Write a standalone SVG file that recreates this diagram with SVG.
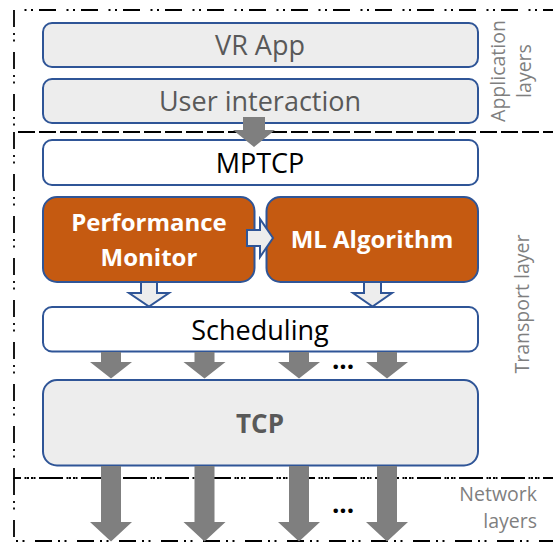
<svg xmlns="http://www.w3.org/2000/svg" width="553" height="544" viewBox="0 0 553 544">
<style>
.zone{fill:none;stroke:#000;stroke-width:1.8;stroke-dasharray:17 6 2 4.5 2 10.5}
.box{stroke:#2f5597;stroke-width:2}
.grey{fill:#ededed}
.white{fill:#ffffff}
.orange{fill:#c55a11}
.t{font-family:"Open Sans","Liberation Sans",sans-serif;text-anchor:middle}
.lbl{font-family:"Open Sans","Liberation Sans",sans-serif;font-size:19.5px;fill:#7f7f7f}
.fat{fill:#7f7f7f}
.hollow{fill:#ededed;stroke:#2f5597;stroke-width:2;stroke-linejoin:miter}
</style>
<rect width="553" height="544" fill="#ffffff"/>
<g id="zones">
<path class="zone" d="M560,10 H14 V132 H560"/>
<path class="zone" d="M560,132 H14 V478 H560"/>
<path class="zone" d="M560,478 H14 V541 H560"/>
</g>
<g id="labels">
<text class="lbl" text-anchor="middle" transform="translate(505,71) rotate(-90)">Application</text>
<text class="lbl" text-anchor="middle" transform="translate(531,71) rotate(-90)">layers</text>
<text class="lbl" text-anchor="middle" transform="translate(529,304) rotate(-90)">Transport layer</text>
<text class="lbl" text-anchor="end" x="537" y="501">Network</text>
<text class="lbl" text-anchor="end" x="537" y="528">layers</text>
</g>
<g id="vr-app">
<rect class="box grey" x="43" y="23" width="435" height="44" rx="9"/>
<text class="t" x="260" y="55" font-size="27" fill="#595959">VR App</text>
</g>
<g id="user-interaction">
<rect class="box grey" x="43" y="79" width="435" height="44" rx="9"/>
<text class="t" x="260" y="111" font-size="27" fill="#595959">User interaction</text>
</g>
<g id="mptcp">
<rect class="box white" x="43" y="140" width="435" height="45" rx="9"/>
<text class="t" x="260" y="173" font-size="27" fill="#000">MPTCP</text>
</g>
<g id="performance-monitor">
<rect class="box orange" x="43" y="197" width="211.5" height="85" rx="14"/>
<text class="t" x="149" y="231" font-size="24" font-weight="bold" fill="#fff">Performance</text>
<text class="t" x="149" y="266" font-size="24" font-weight="bold" fill="#fff">Monitor</text>
</g>
<g id="ml-algorithm">
<rect class="box orange" x="266.5" y="197" width="211.5" height="85" rx="14"/>
<text class="t" x="372" y="248" font-size="24" font-weight="bold" fill="#fff">ML Algorithm</text>
</g>
<g id="scheduling">
<rect class="box white" x="43" y="307" width="435" height="44.5" rx="9"/>
<text class="t" x="260" y="340" font-size="27" fill="#000">Scheduling</text>
</g>
<g id="tcp">
<rect class="box grey" x="43" y="380" width="435" height="85.5" rx="14"/>
<text class="t" x="260" y="433" font-size="26" font-weight="bold" fill="#595959">TCP</text>
</g>
<g id="connectors">
<path class="fat" d="M243,117 H265 V130 H275 L254,147 L233,130 H243 Z"/>
<path class="hollow" d="M247,230 H260 V219 L273,238 L260,257 V246 H247 Z"/>
<path class="hollow" d="M141,282 H157 V293 H169 L149,306.5 L129,293 H141 Z"/>
<path class="hollow" d="M364,282 H381 V293 H392 L372.5,306.5 L353,293 H364 Z"/>
<path class="fat" d="M101,352 H121 V362 H132 L111,378.5 L90,362 H101 Z"/>
<path class="fat" d="M194.5,352 H214.5 V362 H225.5 L204.5,378.5 L183.5,362 H194.5 Z"/>
<path class="fat" d="M289,352 H309 V362 H320 L299,378.5 L278,362 H289 Z"/>
<path class="fat" d="M377,352 H397 V362 H408 L387,378.5 L366,362 H377 Z"/>
<path class="fat" d="M101,466 H121 V522 H132 L111,541.5 L90,522 H101 Z"/>
<path class="fat" d="M194.5,466 H214.5 V522 H225.5 L204.5,541.5 L183.5,522 H194.5 Z"/>
<path class="fat" d="M289,466 H309 V522 H320 L299,541.5 L278,522 H289 Z"/>
<path class="fat" d="M377,466 H397 V522 H408 L387,541.5 L366,522 H377 Z"/>
<text class="t" x="343" y="369" font-size="26" font-weight="bold" fill="#000">...</text>
<text class="t" x="343" y="513" font-size="26" font-weight="bold" fill="#000">...</text>
</g>
</svg>
